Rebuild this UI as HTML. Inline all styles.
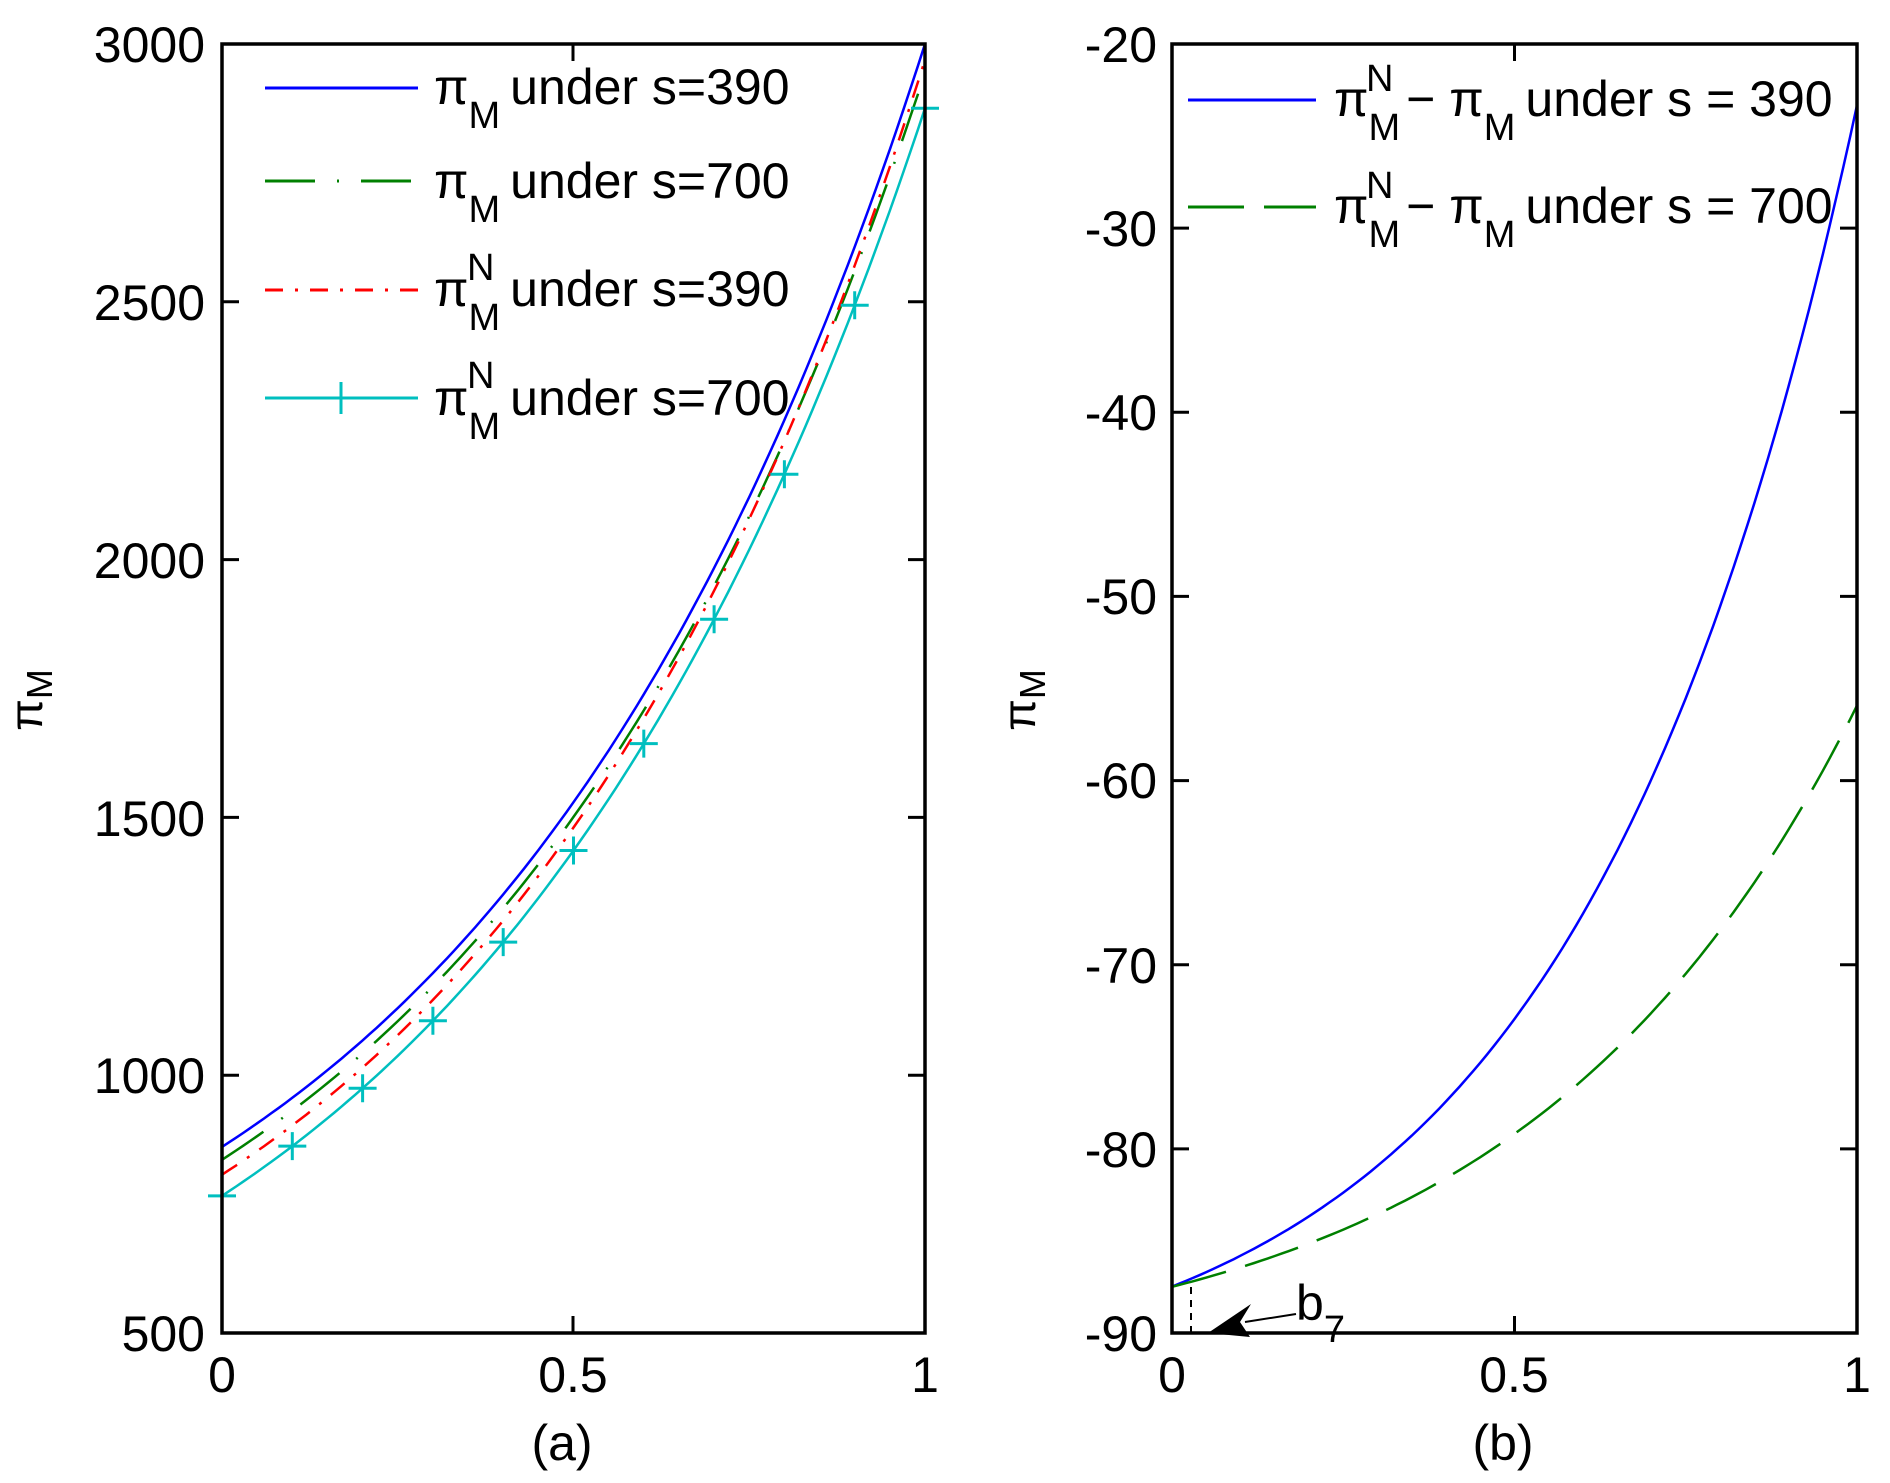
<!DOCTYPE html>
<html><head><meta charset="utf-8"><style>
html,body{margin:0;padding:0;background:#fff;}
svg{display:block;font-family:"Liberation Sans",Arial,sans-serif;}
</style></head><body>
<svg id="s" width="1890" height="1483" viewBox="0 0 1890 1483" xmlns="http://www.w3.org/2000/svg">
<rect width="1890" height="1483" fill="#fff"/>
<g id="curves"></g>
<!-- left axes -->
<rect x="222" y="44" width="703" height="1289" fill="none" stroke="#000" stroke-width="3.5"/>
<g stroke="#000" stroke-width="3">
<line x1="573" y1="1333" x2="573" y2="1316"/><line x1="573" y1="44" x2="573" y2="61"/>
<line x1="222" y1="301.8" x2="239" y2="301.8"/><line x1="925" y1="301.8" x2="908" y2="301.8"/>
<line x1="222" y1="559.6" x2="239" y2="559.6"/><line x1="925" y1="559.6" x2="908" y2="559.6"/>
<line x1="222" y1="817.4" x2="239" y2="817.4"/><line x1="925" y1="817.4" x2="908" y2="817.4"/>
<line x1="222" y1="1075.2" x2="239" y2="1075.2"/><line x1="925" y1="1075.2" x2="908" y2="1075.2"/>
</g>
<g font-size="50" text-anchor="end" fill="#000">
<text x="205" y="62">3000</text><text x="205" y="320">2500</text><text x="205" y="578">2000</text>
<text x="205" y="836">1500</text><text x="205" y="1093">1000</text><text x="205" y="1351">500</text>
</g>
<g font-size="50" text-anchor="middle">
<text x="222" y="1392">0</text><text x="573" y="1392">0.5</text><text x="925" y="1392">1</text>
<text x="562" y="1460">(a)</text>
</g>
<text transform="translate(42,700) rotate(-90)" font-size="46" text-anchor="middle">π<tspan font-size="36" dy="10">M</tspan></text>
<!-- right axes -->
<rect x="1172" y="44" width="685" height="1289" fill="none" stroke="#000" stroke-width="3.5"/>
<g stroke="#000" stroke-width="3">
<line x1="1514.5" y1="1333" x2="1514.5" y2="1316"/><line x1="1514.5" y1="44" x2="1514.5" y2="61"/>
</g>
<g id="rticks" stroke="#000" stroke-width="3"></g>
<g font-size="50" text-anchor="end">
<text x="1157" y="62">-20</text><text x="1157" y="246">-30</text><text x="1157" y="430">-40</text>
<text x="1157" y="614">-50</text><text x="1157" y="798">-60</text><text x="1157" y="983">-70</text>
<text x="1157" y="1167">-80</text><text x="1157" y="1351">-90</text>
</g>
<g font-size="50" text-anchor="middle">
<text x="1172" y="1392">0</text><text x="1514" y="1392">0.5</text><text x="1857" y="1392">1</text>
<text x="1503" y="1460">(b)</text>
</g>
<text transform="translate(1035,700) rotate(-90)" font-size="46" text-anchor="middle">π<tspan font-size="36" dy="10">M</tspan></text>
<!-- annotation -->
<line x1="1191" y1="1287" x2="1191" y2="1332" stroke="#000" stroke-width="2" stroke-dasharray="7,6"/>
<polygon points="1208,1333 1251,1304 1240,1322 1250,1337" fill="#000"/>
<line x1="1245" y1="1322" x2="1296" y2="1314" stroke="#000" stroke-width="2"/>
<text x="1296" y="1320" font-size="50">b<tspan font-size="38" dy="22">7</tspan></text>
<!-- left legend -->
<g stroke-width="3" fill="none">
<line x1="265" y1="88" x2="418" y2="88" stroke="#0000ff"/>
<line x1="265" y1="181" x2="418" y2="181" stroke="#008000" stroke-dasharray="50,22,2,22"/>
<line x1="265" y1="290" x2="418" y2="290" stroke="#ff0000" stroke-dasharray="18,12,3,12"/>
<line x1="265" y1="398" x2="418" y2="398" stroke="#00bfbf"/>
<line x1="341" y1="382" x2="341" y2="414" stroke="#00bfbf"/>
</g>
<g font-size="50">
<text x="434" y="104">π<tspan font-size="38" dy="24">M</tspan><tspan dy="-24" dx="10">under s=390</tspan></text>
<text x="434" y="198">π<tspan font-size="38" dy="24">M</tspan><tspan dy="-24" dx="10">under s=700</tspan></text>
<text x="434" y="306">π<tspan font-size="38" dy="24">M</tspan><tspan dy="-24" dx="10">under s=390</tspan></text>
<text x="467" y="280" font-size="38">N</text>
<text x="434" y="415">π<tspan font-size="38" dy="24">M</tspan><tspan dy="-24" dx="10">under s=700</tspan></text>
<text x="467" y="388" font-size="38">N</text>
</g>
<!-- right legend -->
<g stroke-width="3">
<line x1="1188" y1="100" x2="1316" y2="100" stroke="#0000ff"/>
<line x1="1188" y1="207" x2="1316" y2="207" stroke="#008000" stroke-dasharray="56,20"/>
</g>
<g font-size="50">
<text x="1334" y="116">π<tspan font-size="38" dy="24">M</tspan><tspan dy="-24" dx="6">− π</tspan><tspan font-size="38" dy="24">M</tspan><tspan dy="-24" dx="10">under s = 390</tspan></text>
<text x="1366" y="91" font-size="38">N</text>
<text x="1334" y="223">π<tspan font-size="38" dy="24">M</tspan><tspan dy="-24" dx="6">− π</tspan><tspan font-size="38" dy="24">M</tspan><tspan dy="-24" dx="10">under s = 700</tspan></text>
<text x="1366" y="198" font-size="38">N</text>
</g>
<script>
(function(){
var NS="http://www.w3.org/2000/svg",g=document.getElementById("curves");
function L(x){return 222+x*703;} function Y(v){return 1333-(v-500)/2500*1289;}
function R(x){return 1172+x*685;} function RY(v){return 1333-(v+90)/70*1289;}
function path(fx,fy,f,col,dash,w){var d="";for(var i=0;i<=100;i++){var x=i/100;d+=(i?"L":"M")+fx(x).toFixed(1)+","+fy(f(x)).toFixed(1);}
var p=document.createElementNS(NS,"path");p.setAttribute("d",d);p.setAttribute("fill","none");p.setAttribute("stroke",col);p.setAttribute("stroke-width",w||2.5);if(dash)p.setAttribute("stroke-dasharray",dash);g.appendChild(p);}
function ex(a,b,c){return function(x){return a*Math.exp(b*x)+c;};}
var blue=ex(557,1.577,304),green=ex(568,1.55,268),red=ex(556,1.587,251),cyan=ex(583,1.53,183);
path(L,Y,blue,"#0000ff");
path(L,Y,green,"#008000","50,22,2,22");
path(L,Y,red,"#ff0000","18,12,3,12");
path(L,Y,cyan,"#00bfbf");
for(var i=0;i<=10;i++){var x=L(i/10),y=Y(cyan(i/10));
var m=document.createElementNS(NS,"path");m.setAttribute("d","M"+(x-14)+","+y+"H"+(x+14)+"M"+x+","+(y-14)+"V"+(y+14));m.setAttribute("stroke","#00bfbf");m.setAttribute("stroke-width","3");g.appendChild(m);}
path(R,RY,ex(6.02,2.456,-93.5),"#0000ff");
path(R,RY,ex(4.61,2.06,-92.1),"#008000","56,20");
var rt=document.getElementById("rticks");
for(var v=-80;v<=-30;v+=10){var y=RY(v);
["M1172,"+y+"H1189","M1857,"+y+"H1840"].forEach(function(d){var p=document.createElementNS(NS,"path");p.setAttribute("d",d);rt.appendChild(p);});}
})();
</script>
</svg>
</body></html>
